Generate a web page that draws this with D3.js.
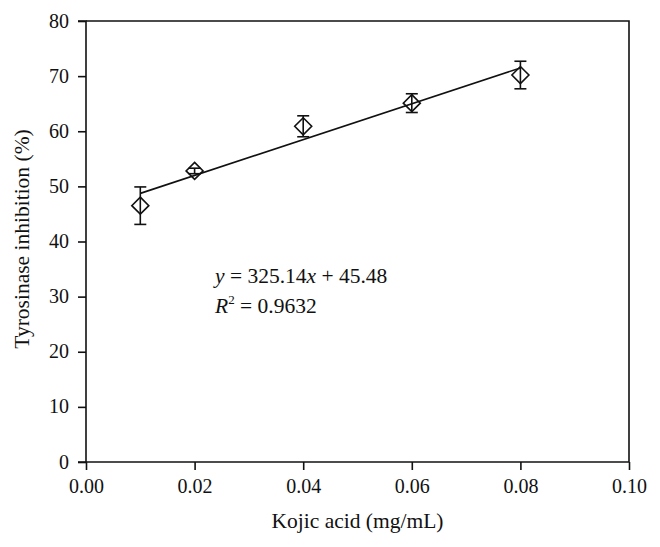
<!DOCTYPE html>
<html>
<head>
<meta charset="utf-8">
<script src="https://cdn.jsdelivr.net/npm/d3@7"></script>
<style>
  body { margin: 0; background: #fff; }
  svg text { font-family: "Liberation Serif", "DejaVu Serif", serif; fill: #111; }
  .axis path, .axis line { stroke: #111; stroke-width: 1.6; }
</style>
</head>
<body>
<svg id="chart"></svg>
<script>
// data
var concentrations = [0.01, 0.02, 0.04, 0.06, 0.08];
var inhibition = [46.5, 52.8, 60.9, 65.1, 70.2];
var errors = [3.4, 0.5, 1.9, 1.7, 2.5];
var xTicks = [0, 0.02, 0.04, 0.06, 0.08, 0.10];
var yTicks = [0, 10, 20, 30, 40, 50, 60, 70, 80];
var slope = 325.14, intercept = 45.48, r2 = 0.9632;

(function () {
    var width = 660, height = 547;
    var margin = { left: 86, right: 31, top: 21, bottom: 85 };

    var svg = d3.select('#chart')
        .attr('width', width)
        .attr('height', height);

    var x = d3.scaleLinear().domain([0, 0.1]).range([margin.left, width - margin.right]);
    var y = d3.scaleLinear().domain([0, 80]).range([height - margin.bottom, margin.top]);

    // frame: top and right lines
    svg.append('path')
        .attr('d', 'M' + x(0) + ',' + y(80) + 'H' + x(0.1) + 'V' + y(0))
        .attr('fill', 'none')
        .attr('stroke', '#111')
        .attr('stroke-width', 1.6);

    var xAxis = svg.append('g')
        .attr('class', 'axis')
        .attr('transform', 'translate(0,' + y(0) + ')')
        .call(d3.axisBottom(x).tickValues(xTicks).tickFormat(d3.format('.2f')).tickSize(8).tickSizeOuter(0));
    xAxis.selectAll('text').attr('font-size', 20).attr('dy', '1.0em');

    var yAxis = svg.append('g')
        .attr('class', 'axis')
        .attr('transform', 'translate(' + x(0) + ',0)')
        .call(d3.axisLeft(y).tickValues(yTicks).tickSize(8).tickSizeOuter(0));
    yAxis.selectAll('text').attr('font-size', 20).attr('x', -17).attr('dy', '0.3em');
    xAxis.select('.domain').attr('d', 'M' + (x(0) - 8) + ',0H' + x(0.1));
    yAxis.select('.domain').attr('d', 'M0,' + y(0) + 'V' + (y(80)) + 'H-8');

    // axis titles
    svg.append('text')
        .attr('x', (x(0) + x(0.1)) / 2)
        .attr('y', 528)
        .attr('text-anchor', 'middle')
        .attr('font-size', 21.5)
        .text('Kojic acid (mg/mL)');

    svg.append('text')
        .attr('transform', 'translate(29,' + 239 + ') rotate(-90)')
        .attr('text-anchor', 'middle')
        .attr('font-size', 21.5)
        .text('Tyrosinase inhibition (%)');

    // regression line
    var x0 = concentrations[0], x1 = concentrations[concentrations.length - 1];
    svg.append('line')
        .attr('x1', x(x0)).attr('y1', y(slope * x0 + intercept))
        .attr('x2', x(x1)).attr('y2', y(slope * x1 + intercept))
        .attr('stroke', '#111')
        .attr('stroke-width', 1.6);

    var pts = concentrations.map(function (c, i) { return { c: c, v: inhibition[i], e: errors[i] }; });

    // error bars
    var eb = svg.append('g').attr('stroke', '#111').attr('stroke-width', 1.6);
    pts.forEach(function (d) {
        eb.append('line').attr('x1', x(d.c)).attr('x2', x(d.c)).attr('y1', y(d.v - d.e)).attr('y2', y(d.v + d.e));
        eb.append('line').attr('x1', x(d.c) - 6).attr('x2', x(d.c) + 6).attr('y1', y(d.v + d.e)).attr('y2', y(d.v + d.e));
        eb.append('line').attr('x1', x(d.c) - 6).attr('x2', x(d.c) + 6).attr('y1', y(d.v - d.e)).attr('y2', y(d.v - d.e));
    });

    // diamond markers
    svg.selectAll('.marker')
        .data(pts)
        .enter().append('path')
            .attr('class', 'marker')
            .attr('d', function (d) {
                var cx = x(d.c), cy = y(d.v), r = 8.5;
                return 'M' + cx + ',' + (cy - r) + 'L' + (cx + r) + ',' + cy + 'L' + cx + ',' + (cy + r) + 'L' + (cx - r) + ',' + cy + 'Z';
            })
            .attr('fill', 'none')
            .attr('stroke', '#111')
            .attr('stroke-width', 1.6);

    // equation
    var eq = svg.append('text').attr('x', 215).attr('y', 283).attr('font-size', 21.5);
    eq.append('tspan').attr('font-style', 'italic').text('y');
    eq.append('tspan').text(' = ' + slope + '');
    eq.append('tspan').attr('font-style', 'italic').text('x');
    eq.append('tspan').text(' + ' + intercept);

    var rt = svg.append('text').attr('x', 215).attr('y', 313).attr('font-size', 21.5);
    rt.append('tspan').attr('font-style', 'italic').text('R');
    rt.append('tspan').attr('font-size', 13).attr('dy', -9).text('2');
    rt.append('tspan').attr('dy', 9).text(' = ' + r2);
}());
</script>
</body>
</html>
